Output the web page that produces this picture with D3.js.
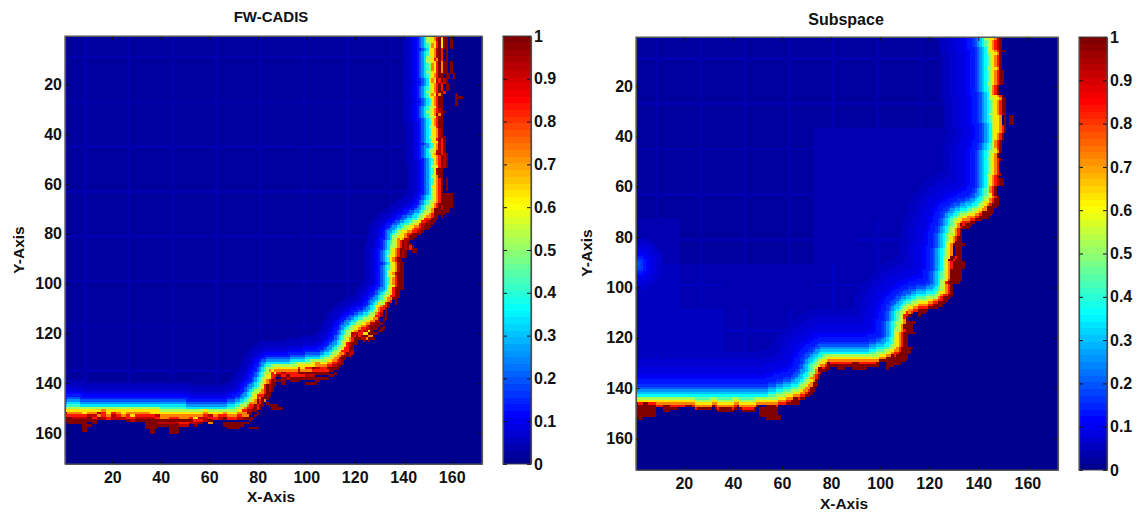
<!DOCTYPE html>
<html><head><meta charset="utf-8">
<script src="https://cdn.jsdelivr.net/npm/d3@7/dist/d3.min.js"></script>
<style>html,body{margin:0;background:#fff}svg{display:block}text{font-family:"Liberation Sans",Arial,sans-serif;font-weight:bold;fill:#111}</style>
</head><body><svg id="c" width="1138" height="514"></svg>
<script>
const tickVals=[20,40,60,80,100,120,140,160];
const barTicks=[0,.1,.2,.3,.4,.5,.6,.7,.8,.9,1];
const meshLines=[9,27,45,63,81,99,117,135,153];

// Front point [x, y, outward cell levels]: digit = tenths, X = 1, . = empty
const fwFront=[[150,1,"5667897XX.XX"],[150,3,"566797XX8X.X"],[151,5,"5768X6XX.X"],[151,7,"6679X8.X"],[150,9,"56678X7XX."],[150,11,"566879XX.X"],[151,13,"5768X7XX.X"],[150,15,"56697X8XX.XX"],[151,17,"5678XX.XX.X"],[151,19,"67698X9X"],[151,21,"5678X8.XX"],[150,23,"566876XX"],[151,25,"67697X8"],[152,27,"678XX."],[151,29,"56789X"],[150,31,"566798XX"],[151,33,"567X7.XX"],[152,35,"678XX"],[151,37,"5679X"],[152,39,"6679X"],[151,41,"5687.XX"],[152,43,"668X8X"],[153,45,"6798X"],[151,47,"56678XX.X"],[152,49,"679X8.X"],[153,51,"678X9X"],[152,53,"5678X"],[153,55,"69XX"],[152,57,"5789XX"],[153,59,"678X.X"],[152,61,"679XX"],[152,63,"5678X"],[152,65,"5678XXXXX"],[151,67,"5678X9XXX"],[150,69,"567XXXXX"],[149,71,"5678XX."],[147,73,"5689XX"],[144,75,"56789X"],[141,77,"5678XX."],[138,79,"56679XX."],[136,81,"566798X7XX"],[136,83,"5678X9X8XX"],[135,85,"567689X.X"],[135,87,"5678X9X"],[134,89,"56798XX"],[135,91,"678XX"],[135,93,"5679XX"],[134,95,"5678X9X"],[134,97,"5679XX"],[135,99,"678XXX"],[134,101,"5689XXX"],[134,103,"568XX"],[132,105,"5678.X"],[131,107,"568X."],[129,109,"678.X"],[128,111,"5789.X"],[126,113,"5679XX.X"],[122,115,"567896X7X"],[119,117,"56798X9X"],[117,119,"5698XXX"],[116,121,"5678XX"],[115,123,"5689X"],[114,125,"5688X9"],[112,127,"5679X"],[110,129,"56789X"],[108,130,"5678XX.X"],[106,131,"56788X.X"],[104,131,"57798X.XX"],[102,131,"566X8X"],[100,132,"5687X9X.X"],[98,132,"5667X8X"],[96,132,"5689X9XX"],[94,133,"56788XX"],[92,133,"5678X9"],[90,133,"56798XXX"],[88,133,"5678X.X"],[86,133,"56768X9X"],[84,134,"5789X8X"],[83,136,"56689X"],[82,138,"5678XX"],[81,140,"568X9X"],[80,142,"5678XX"],[78,144,"5687X79X"],[77,146,"567X8X"],[75,148,"5789X.X"],[73,149,"56877X.X"],[71,150,"56789.XX"],[68,151,"5678.XXX"],[66,151,"578X.XX"],[64,151,"5689"],[62,151,"5678"],[60,151,"5698X7"],[58,151,"67899"],[56,151,"56798X"],[54,151,"567689X"],[52,151,"5678X9"],[50,151,"5677X89"],[48,150,"566678XXX"],[46,151,"5678X9XXXX"],[44,150,"566799X.XX"],[42,151,"5677X9X"],[40,150,"56768XXX"],[38,150,"56698XXXXX"],[36,150,"56689XXXXXX"],[34,150,"56789XXXX"],[32,150,"56789X"],[30,150,"56789X"],[28,150,"567689"],[26,150,"56788X"],[24,150,"56679"],[22,150,"56789"],[20,150,"56899"],[18,150,"56678"],[16,150,"57889"],[14,150,"5697X"],[12,150,"56798XX"],[10,150,"5679XX.X"],[8,150,"56689XXXXX"],[6,150,"56789XX"],[4,149,"56987XXX"],[2,150,"5678XXX"],[1,150,"5698XX"]];
const fwIslands=[[162,162,24],[162,164,25],[162,162,26],[162,162,27],[162,162,28],[85,88,149],[86,90,150],[77,80,158]];
const fwHalo=[.42,.34,.26,.19,.14,.11,.09,.075,.06,.05,.04,.03];
const fwBack=[[.025,.025,.025,.025,.025,.025,.025,.025,.025,.025],[.025,.025,.025,.025,.025,.025,.025,.025,.025,.025],[.025,.025,.025,.025,.025,.025,.025,.025,.025,.025],[.025,.025,.025,.025,.025,.025,.025,.025,.025,.025],[.025,.025,.025,.025,.025,.025,.025,.025,.025,.025],[.025,.025,.025,.025,.025,.025,.025,.025,.025,.025],[.025,.025,.025,.025,.025,.025,.025,.025,.025,.025],[.02,.02,.02,.02,.025,.025,.025,.025,.025,.025],[.025,.025,.025,.025,.025,.025,.025,.025,.025,.025],[.025,.025,.025,.025,.025,.025,.025,.025,.025,.025]];

const subFront=[[143,1,"56678XX"],[144,4,"56789X"],[144,7,"56678XX"],[145,10,"5678X"],[144,13,"5667XX"],[145,16,"5678XX"],[144,19,"5678X"],[145,22,"578X"],[145,25,"56678X"],[146,28,"5678XX"],[145,31,"56789XX"],[146,34,"5667.X.XX"],[146,37,"56678X"],[146,40,"5678X"],[146,43,"578X"],[145,46,"567X"],[144,49,"5678X"],[145,52,"5678"],[144,55,"5678X"],[144,58,"56789XX"],[144,61,"578X"],[143,64,"5678XX"],[141,67,"567XXX"],[138,69,"5678X"],[133,71,"5678XX"],[130,73,"567XX"],[129,76,"5678X"],[128,79,"5678XX"],[127,82,"567XXXX"],[127,85,"567.XXX"],[126,88,"56XX8XX"],[126,91,"5678XXXXX"],[126,94,"567XXXXX"],[125,97,"568XXXX"],[125,100,"5678X"],[123,103,"578XX"],[119,104,"5678X"],[115,105,"5678XX"],[111,107,"5678"],[108,110,"568X"],[107,114,"567XXXX"],[106,117,"5678XXXXX"],[106,120,"5678XX"],[105,123,"5678XXXX"],[102,125,"567XXXX"],[99,126,"567X"],[96,127,"5678X"],[93,127,"5678XX"],[90,127,"567XXX"],[87,127,"5678X"],[84,127,"5678XX"],[81,127,"5678X"],[78,127,"567X"],[75,129,"5678X"],[73,131,"56XXX"],[72,134,"578X"],[70,137,"567XX"],[67,140,"5678X"],[64,141,"567XXX"],[61,142,"5678X"],[58,143,"5678"],[55,144,"567XXXXXX"],[52,144,"567.XXXX"],[49,144,"567X"],[46,145,"5678X"],[43,144,"567X"],[40,144,"5678X"],[37,145,"567XX"],[34,144,"5678X"],[31,144,"567X"],[28,145,"567X"],[25,144,"5678"],[22,144,"567X"],[19,144,"5678"],[16,144,"5678X"],[13,144,"567XXX"],[10,144,"5678"],[7,144,"568XXXXX"],[4,144,"56XXXXXX"],[2,144,"568XXXXXX"],[1,144,"56XXXXXX"]];
const subIslands=[[54,57,150],[53,58,151],[54,56,152]];
const subHalo=[.44,.37,.31,.25,.2,.16,.14,.125,.11,.1,.09,.085,.08,.075,.07,.065,.06,.055,.05,.045];
const subBack=[[.025,.025,.025,.025,.025,.025,.025,.025,.025,.025],[.025,.025,.025,.025,.025,.025,.025,.025,.025,.025],[.025,.025,.025,.025,.035,.035,.035,.035,.035,.035],[.025,.025,.025,.025,.035,.035,.035,.035,.035,.035],[.035,.025,.025,.025,.035,.04,.04,.04,.04,.04],[.05,.04,.035,.035,.04,.04,.04,.04,.04,.04],[.05,.05,.04,.04,.05,.05,.05,.05,.05,.05],[.06,.05,.05,.05,.05,.05,.05,.05,.05,.05],[.065,.065,.065,.065,.065,.065,.065,.065,.065,.065],[.065,.065,.065,.065,.065,.065,.065,.065,.065,.065]];
const subSpot=[1,91], subSpotLevels=[.2,.18,.16,.14,.12,.1,.09,.08,.07,.065,.06];

const panels=[
 {title:"FW-CADIS",tx:271,ty:17,tf:15,px:[65,482],py:[36,464],bar:[503,531],xlab:[271,496],ylab:[18,250],tickDy:477,
  front:fwFront,halo:fwHalo,back:fwBack,islands:fwIslands,mesh:.016},
 {title:"Subspace",tx:846,ty:19,tf:16,px:[636,1058],py:[37,470],bar:[1079,1107],xlab:[844,503],ylab:[586,253],tickDy:483,
  front:subFront,halo:subHalo,back:subBack,islands:subIslands,mesh:.008,spot:subSpot,spotLevels:subSpotLevels}
];

const jetBase=d3.scaleLinear().domain([0,.109,.359,.609,.859,1]).range(["rgb(0,0,143)","rgb(0,0,255)","rgb(0,255,255)","rgb(255,255,0)","rgb(255,0,0)","rgb(128,0,0)"]).interpolate(d3.interpolateRgb);
const jetColors=d3.range(64).map(i=>jetBase(i/63));
const jet=d3.scaleQuantize().domain([0,1]).range(jetColors);
const levelOf=ch=>ch==="X"?1:ch==="."?0:(+ch)/10+.03;

const svg=d3.select("#c");
svg.append("defs").append("filter").attr("id","soft").attr("x","-2%").attr("y","-2%").attr("width","104%").attr("height","104%").append("feGaussianBlur").attr("stdDeviation",.35);

function cellValue(p,poly,c,r){
  let best=1e9,bi=0;
  const f=p.front,n=f.length;
  for(let i=0;i<n-1;i++){
    const ax=f[i][0],ay=f[i][1],dx=f[i+1][0]-ax,dy=f[i+1][1]-ay;
    let t=((c-ax)*dx+(r-ay)*dy)/(dx*dx+dy*dy);t=Math.max(0,Math.min(1,t));
    const ex=ax+t*dx-c,ey=ay+t*dy-r,d=ex*ex+ey*ey;
    if(d<best){best=d;bi=t<.5?i:i+1;}
  }
  const d=Math.sqrt(best);
  if(d3.polygonContains(poly,[c,r])){
    const h=p.halo[Math.floor(d)]||0;
    const bx=Math.min(9,Math.floor((c-1)/18)),by=Math.min(9,Math.floor((r-1)/18));
    let b=p.back[by][bx];
    if(meshLines.includes(c)||meshLines.includes(r))b+=p.mesh;
    let s=0;
    if(p.spot){const q=Math.hypot(c-p.spot[0],r-p.spot[1]);s=p.spotLevels[Math.floor(q)]||0;}
    return Math.max(b,h,s);
  }
  const ch=f[bi][2][Math.floor(d)];
  return ch===undefined?0:levelOf(ch);
}

panels.forEach(p=>{
  const x=d3.scaleLinear().domain([.5,172.5]).range(p.px);
  const y=d3.scaleLinear().domain([.5,172.5]).range(p.py);
  const w=p.px[1]-p.px[0],h=p.py[1]-p.py[0];
  const poly=p.front.map(v=>[v[0],v[1]]);
  poly.unshift([p.front[0][0],-5]);poly.push([-5,p.front[p.front.length-1][1]]);poly.push([-5,-5]);
  const g=svg.append("g").attr("filter","url(#soft)");
  g.append("rect").attr("x",p.px[0]).attr("y",p.py[0]).attr("width",w).attr("height",h).attr("fill",jet(0));
  const isl=new Set();
  p.islands.forEach(([a,b,r])=>{for(let c=a;c<=b;c++)isl.add(c+"_"+r);});
  const runs=[];
  for(let r=1;r<=172;r++){
    let cur=null;
    for(let c=1;c<=172;c++){
      const v=isl.has(c+"_"+r)?1:cellValue(p,poly,c,r);
      const col=jet(v);
      if(cur&&cur.col===col)cur.c1=c;
      else{cur={r,c0:c,c1:c,col};runs.push(cur);}
    }
  }
  g.selectAll("rect.cell").data(runs.filter(d=>d.col!==jet(0))).join("rect").attr("class","cell")
   .attr("x",d=>x(d.c0-.5)).attr("y",d=>y(d.r-.5))
   .attr("width",d=>x(d.c1+.5)-x(d.c0-.5)).attr("height",d=>y(d.r+.5)-y(d.r-.5)+.3)
   .attr("fill",d=>d.col).attr("shape-rendering","crispEdges");

  const style=(a,lab)=>{
    a.selectAll(".domain").attr("stroke","#555").attr("stroke-width",1.2);
    a.selectAll(".tick line").attr("stroke","#111").attr("stroke-width",1);
    a.selectAll("text").style("font-size",lab+"px");
  };
  const ax=svg.append("g");
  style(ax.append("g").attr("transform",`translate(0,${p.py[1]})`).call(d3.axisBottom(x).tickValues(tickVals).tickSize(-4).tickSizeOuter(0).tickPadding(0)).call(s=>s.selectAll("text").attr("y",p.tickDy-p.py[1]).attr("dy",".36em")),16);
  style(ax.append("g").attr("transform",`translate(${p.px[0]},0)`).call(d3.axisLeft(y).tickValues(tickVals).tickSize(-4).tickSizeOuter(0).tickPadding(3)),16);
  style(ax.append("g").attr("transform",`translate(0,${p.py[0]})`).call(d3.axisTop(x).tickValues(tickVals).tickSize(-4).tickSizeOuter(0).tickFormat("")),16);
  style(ax.append("g").attr("transform",`translate(${p.px[1]},0)`).call(d3.axisRight(y).tickValues(tickVals).tickSize(-4).tickSizeOuter(0).tickFormat("")),16);
  svg.append("text").attr("x",p.tx).attr("y",p.ty).attr("dy",".36em").attr("text-anchor","middle").style("font-size",p.tf+"px").text(p.title);
  svg.append("text").attr("x",p.xlab[0]).attr("y",p.xlab[1]).attr("dy",".36em").attr("text-anchor","middle").style("font-size","15.5px").text("X-Axis");
  svg.append("text").attr("transform",`translate(${p.ylab[0]},${p.ylab[1]}) rotate(-90)`).attr("dy",".36em").attr("text-anchor","middle").style("font-size","15.5px").text("Y-Axis");

  const by=d3.scaleLinear().domain([0,1]).range([p.py[1],p.py[0]]);
  const bw=p.bar[1]-p.bar[0];
  svg.append("g").selectAll("rect").data(jetColors).join("rect")
   .attr("x",p.bar[0]).attr("width",bw).attr("y",(d,i)=>by((i+1)/64)).attr("height",(h/64)+.4)
   .attr("fill",d=>d).attr("shape-rendering","crispEdges");
  style(svg.append("g").attr("transform",`translate(${p.bar[1]},0)`).call(d3.axisRight(by).tickValues(barTicks).tickFormat(d3.format("~g")).tickSize(-4).tickSizeOuter(0).tickPadding(3)),16);
  style(svg.append("g").attr("transform",`translate(${p.bar[0]},0)`).call(d3.axisLeft(by).tickValues(barTicks).tickFormat("").tickSize(-4).tickSizeOuter(0)),16);
  svg.append("rect").attr("x",p.bar[0]).attr("y",p.py[0]).attr("width",bw).attr("height",h).attr("fill","none").attr("stroke","#444");
  svg.append("path").attr("d",`M${p.px[0]} ${p.py[0]}H${p.px[1]}V${p.py[1]}H${p.px[0]}Z`).attr("fill","none").attr("stroke","#555").attr("stroke-width",1.2);
});
</script></body></html>
